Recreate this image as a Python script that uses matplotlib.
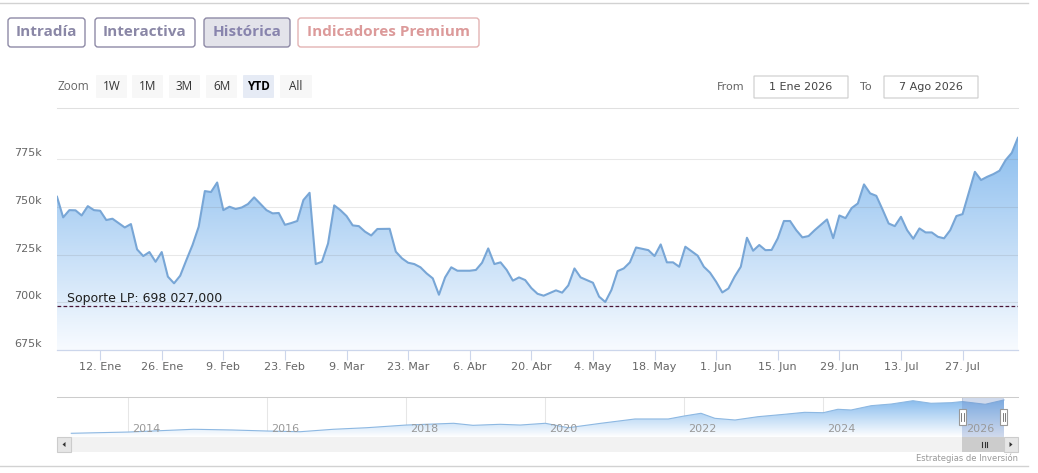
"""
plot.py
=======
Historical price chart (YTD 2026) with long-term support line and
navigator strip, in the style of a Highcharts Stock widget.
"""

import matplotlib
matplotlib.use("Agg")
import matplotlib.pyplot as plt
import numpy as np
import pandas as pd
from matplotlib.colors import to_rgb
from matplotlib.patches import FancyBboxPatch, Polygon, Rectangle


# ── data ───────────────────────────────────────────────────────────────────── #

# trading sessions shown on the ordinal x axis (1 Ene → 7 Ago 2026)
sessions = pd.bdate_range("2026-01-01", "2026-08-07")

# session number and close value [k]
day_idx = [
    0, 1, 2, 3, 4, 5, 6, 7, 8, 9, 11, 12, 13, 14, 15, 16, 17, 18, 19, 20,
    21, 22, 23, 24, 25, 26, 27, 28, 29, 30, 31, 32, 34, 35, 36, 37, 38, 39, 40, 41,
    42, 43, 44, 45, 46, 47, 48, 49, 50, 51, 52, 54, 55, 56, 57, 58, 59, 60, 61, 62,
    63, 64, 65, 66, 67, 68, 69, 70, 71, 72, 73, 74, 75, 76, 77, 78, 79, 81, 82, 83,
    84, 85, 86, 87, 88, 89, 90, 91, 92, 93, 94, 95, 96, 97, 98, 99, 100, 101, 102, 104,
    105, 106, 107, 108, 109, 110, 111, 112, 113, 114, 115, 116, 117, 118, 119, 120, 121, 122, 123, 125,
    126, 127, 128, 129, 130, 131, 132, 133, 134, 135, 136, 137, 138, 139, 140, 141, 142, 143, 144, 145,
    146, 147, 149, 150, 151, 152, 153, 154, 155, 156, 157,
]
close_k = [
    755.4, 744.6, 748.4, 748.3, 745.6, 750.5, 748.4, 748.1, 743.2, 743.9,
    739.3, 741.1, 727.8, 724.3, 726.4, 721.3, 726.4, 713.5, 710.0, 714.0,
    722.2, 730.1, 739.7, 758.4, 757.9, 762.9, 748.4, 750.2, 749.0, 749.8,
    751.6, 755.1, 748.4, 746.7, 746.9, 740.7, 741.6, 742.7, 753.7, 757.5,
    720.1, 721.3, 730.9, 750.9, 748.4, 745.3, 740.4, 740.0, 737.1, 735.1,
    738.5, 738.6, 726.6, 723.1, 720.8, 720.1, 718.4, 715.2, 712.6, 704.0,
    713.1, 718.4, 716.6, 716.6, 716.6, 717.0, 720.8, 728.3, 720.1, 721.0,
    717.0, 711.4, 713.1, 711.7, 707.5, 704.5, 703.5, 706.3, 705.1, 708.9,
    717.8, 713.1, 711.7, 710.3, 703.0, 700.2, 706.5, 716.4, 717.8, 721.0,
    728.8, 728.1, 727.4, 724.3, 730.4, 721.0, 721.0, 718.7, 729.2, 724.5,
    718.7, 715.6, 710.8, 705.2, 707.3, 713.5, 718.7, 733.9, 727.1, 730.1,
    727.4, 727.5, 733.6, 742.7, 742.7, 737.9, 734.1, 734.8, 737.9, 743.5,
    733.7, 745.6, 744.2, 749.5, 751.9, 761.9, 757.2, 755.9, 748.8, 741.4,
    740.0, 744.9, 737.9, 733.4, 738.8, 736.7, 736.7, 734.4, 733.6, 737.9,
    745.3, 746.3, 768.5, 764.2, 765.9, 767.3, 769.1, 774.7, 778.5, 786.5,
    781.6,
]

tick_dates = ["2026-01-12", "2026-01-26", "2026-02-09", "2026-02-23", "2026-03-09",
              "2026-03-23", "2026-04-06", "2026-04-20", "2026-05-04", "2026-05-18",
              "2026-06-01", "2026-06-15", "2026-06-29", "2026-07-13", "2026-07-27"]
tick_labels = ["12. Ene", "26. Ene", "9. Feb", "23. Feb", "9. Mar", "23. Mar", "6. Abr",
               "20. Abr", "4. May", "18. May", "1. Jun", "15. Jun", "29. Jun", "13. Jul",
               "27. Jul"]

y_labels = [675, 700, 725, 750, 775]
SUPPORT_K = 698.027

# navigator: long history (decimal year, value [k])
nav_year = [2013.18, 2014.0, 2014.94, 2015.5, 2016.0, 2016.47, 2016.95, 2017.43, 2018.0,
            2018.68, 2018.96, 2019.35, 2019.64, 2020.0, 2020.33, 2020.8, 2021.29, 2021.77,
            2022.0, 2022.24, 2022.44, 2022.73, 2023.06, 2023.44, 2023.73, 2024.0, 2024.21,
            2024.4, 2024.69, 2024.98, 2025.29, 2025.55, 2025.84, 2026.0, 2026.33, 2026.6]
nav_value_k = [225, 246, 292, 280, 263, 251, 292, 318, 363, 392, 358, 375, 363, 392, 318,
               392, 464, 464, 514, 559, 475, 447, 502, 542, 575, 569, 626, 614, 686, 714,
               769, 726, 736, 755, 709, 782]
nav_years_lab = [2014, 2016, 2018, 2020, 2022, 2024, 2026]
SEL_FROM, SEL_TO = 2026.0, 2026.6

tabs = ["Intradía", "Interactiva", "Histórica", "Indicadores Premium"]
zoom_btns = ["1W", "1M", "3M", "6M", "YTD", "All"]


# ── helpers ────────────────────────────────────────────────────────────────── #

W, H = 1038, 473
PT = 0.72  # points per pixel at dpi=100


def fig_rect(x0, y0, x1, y1):
    """Pixel box (top-left origin) → figure-fraction rect."""
    return [x0 / W, 1 - y1 / H, (x1 - x0) / W, (y1 - y0) / H]


def gradient_fill(ax, x, y, y0, ytop, c_top, c_bot, zorder=1):
    poly = ax.fill_between(x, y, y0, facecolor="none", edgecolor="none")
    top, bot = np.array(to_rgb(c_top)), np.array(to_rgb(c_bot))
    t = np.linspace(0, 1, 256)[:, None]
    img = (top + (bot - top) * t).reshape(256, 1, 3)
    im = ax.imshow(img, extent=[x[0], x[-1], y0, ytop], aspect="auto",
                   origin="upper", zorder=zorder, interpolation="bilinear")
    im.set_clip_path(poly.get_paths()[0], transform=ax.transData)


# ── figure ─────────────────────────────────────────────────────────────────── #

fig = plt.figure(figsize=(W / 100, H / 100), dpi=100)
fig.patch.set_facecolor("white")

# main price panel
Y_MIN, Y_MAX = 675, 802
ax = fig.add_axes(fig_rect(57, 108, 1018, 350))
ax.set_facecolor("white")
gradient_fill(ax, day_idx, close_k, Y_MIN, Y_MAX, "#7cb5ec", "#f8fbff")
ax.plot(day_idx, close_k, color="#78a6d6", lw=1.5, zorder=3, solid_joinstyle="round")

for v in y_labels[1:]:
    ax.axhline(v, color=(0.45, 0.45, 0.45, 0.16), lw=0.75, zorder=2)
    
for v in y_labels:
    ax.annotate(f"{v}k", xy=(0, v), xycoords=ax.get_yaxis_transform(),
                xytext=(-15 * PT, 6 * PT), textcoords="offset points",
                ha="right", va="center", fontsize=8, color="#666666")

ax.axhline(SUPPORT_K, color="#4a1535", lw=0.9, ls=(0, (3, 1.8)), zorder=4)
ax.annotate(f"Soporte LP: 698 027,000", xy=(0, SUPPORT_K),
            xycoords=ax.get_yaxis_transform(), xytext=(10 * PT, 1.5 * PT),
            textcoords="offset points", ha="left", va="bottom",
            fontsize=9, color="#1e1e1e", zorder=5)

tick_pos = [sessions.get_loc(pd.Timestamp(d)) for d in tick_dates]
ax.set_xticks(tick_pos, tick_labels)
ax.set_yticks([])
ax.tick_params(axis="x", length=10 * PT, width=0.8, color="#ccd6eb",
               labelcolor="#666666", labelsize=8, pad=1.5)
ax.set_xlim(0, len(sessions) - 1)
ax.set_ylim(Y_MIN, Y_MAX)
for side in ("left", "right"):
    ax.spines[side].set_visible(False)
ax.spines["top"].set_color("#e0e0e0")
ax.spines["top"].set_linewidth(0.75)
ax.spines["bottom"].set_color("#ccd6eb")
ax.spines["bottom"].set_linewidth(0.9)

# navigator strip
nav = fig.add_axes(fig_rect(57, 397, 1018, 437))
NAV_MIN, NAV_MAX = 163, 831
for yr in nav_years_lab:
    nav.axvline(yr, color="#e6e6e6", lw=0.75, zorder=0)
gradient_fill(nav, nav_year, nav_value_k, NAV_MIN, NAV_MAX, "#7cb5ec", "#ffffff")
nav.plot(nav_year, nav_value_k, color="#8db8e2", lw=0.8, zorder=3)
nav.axvspan(SEL_FROM, SEL_TO, color=(0.40, 0.52, 0.76, 0.30), lw=0, zorder=4)
for yr in nav_years_lab:
    nav.annotate(str(yr), xy=(yr, 0), xycoords=("data", "axes fraction"),
                 xytext=(4 * PT, 8 * PT), textcoords="offset points",
                 ha="left", va="center", fontsize=8, color="#999999", zorder=5)
nav.set_xlim(2014 + (57 - 128.3) / 69.5, 2014 + (1018 - 128.3) / 69.5)
nav.set_ylim(NAV_MIN, NAV_MAX)
nav.set_xticks([])
nav.set_yticks([])
for s in nav.spines.values():
    s.set_visible(False)

# ── widget chrome (pixel overlay) ──────────────────────────────────────────── #

ov = fig.add_axes([0, 0, 1, 1], zorder=10)
ov.set_xlim(0, W)
ov.set_ylim(H, 0)
ov.axis("off")

ov.plot([0, 1028], [3, 3], color="#d2d2d2", lw=1)
ov.plot([0, 1028], [466, 466], color="#d2d2d2", lw=1)


def button(x0, x1, y0, y1, label, fc, ec, tc, fs, weight="normal",
           family="Open Sans", r=3, lw=1.0):
    ov.add_patch(FancyBboxPatch((x0, y0), x1 - x0, y1 - y0,
                                boxstyle=f"round,pad=0,rounding_size={r}",
                                fc=fc, ec=ec, lw=lw))
    ov.text((x0 + x1) / 2, (y0 + y1) / 2, label, ha="center", va="center",
            color=tc, fontsize=fs, fontweight=weight, family=family)


# top tabs
tab_x = [(8, 85), (95, 195), (204, 290), (298, 479)]
tab_style = [("white", "#8e8aa6", "#8a87a6"), ("white", "#8e8aa6", "#8a87a6"),
             ("#e3e3ea", "#8e8aa6", "#8884ad"), ("white", "#e3b3b3", "#dc9a9a")]
for (x0, x1), label, (fc, ec, tc) in zip(tab_x, tabs, tab_style):
    button(x0, x1, 18, 47, label, fc, ec, tc, 11, weight="bold")

# range selector
ov.text(57, 87, "Zoom", ha="left", va="center", fontsize=8.5, color="#666666",
        family="Open Sans")
zoom_x = [(96, 127), (132, 163), (169, 200), (206, 237), (243, 274), (280, 312)]
for (x0, x1), label in zip(zoom_x, zoom_btns):
    sel = label == "YTD"
    button(x0, x1, 75, 98, label, "#e6ebf5" if sel else "#f7f7f7", "none",
           "#000000" if sel else "#333333", 8.5, weight="bold" if sel else "normal",
           r=1, lw=0)

ov.text(717, 87, "From", ha="left", va="center", fontsize=8, color="#666666")
button(754, 848, 76, 98, "1 Ene 2026", "white", "#cccccc", "#444444", 8,
       family="DejaVu Sans", r=0, lw=0.8)
ov.text(860, 87, "To", ha="left", va="center", fontsize=8, color="#666666")
button(884, 978, 76, 98, "7 Ago 2026", "white", "#cccccc", "#444444", 8,
       family="DejaVu Sans", r=0, lw=0.8)

# navigator border, handles and scrollbar
ov.plot([57, 1018], [397, 397], color="#cccccc", lw=0.75)
for hx in (962.3, 1003.8):
    ov.add_patch(Rectangle((hx - 3.5, 409), 7, 16, fc="white", ec="#999999", lw=0.8))
    for dx in (-1.2, 1.2):
        ov.plot([hx + dx, hx + dx], [413, 421], color="#666666", lw=0.6)

ov.add_patch(Rectangle((57, 437), 961, 15, fc="#f2f2f2", ec="none"))
ov.add_patch(Rectangle((962, 437), 42, 15, fc="#cccccc", ec="none"))
for gx in (982, 984.5, 987):
    ov.plot([gx, gx], [441.5, 446.5], color="#333333", lw=0.8)
ov.add_patch(Rectangle((57, 437), 14, 15, fc="#e6e6e6", ec="#cccccc", lw=0.8))
ov.add_patch(Polygon([[62.5, 444.5], [65.5, 442], [65.5, 447]], fc="#333333", ec="none"))
ov.add_patch(Rectangle((1004, 437), 14, 15, fc="#e6e6e6", ec="#cccccc", lw=0.8))
ov.add_patch(Polygon([[1012.5, 444.5], [1009.5, 442], [1009.5, 447]], fc="#333333", ec="none"))

ov.text(1018, 458, "Estrategias de Inversión", ha="right", va="center",
        fontsize=6, color="#999999")

fig.savefig("out.png", dpi=100)
